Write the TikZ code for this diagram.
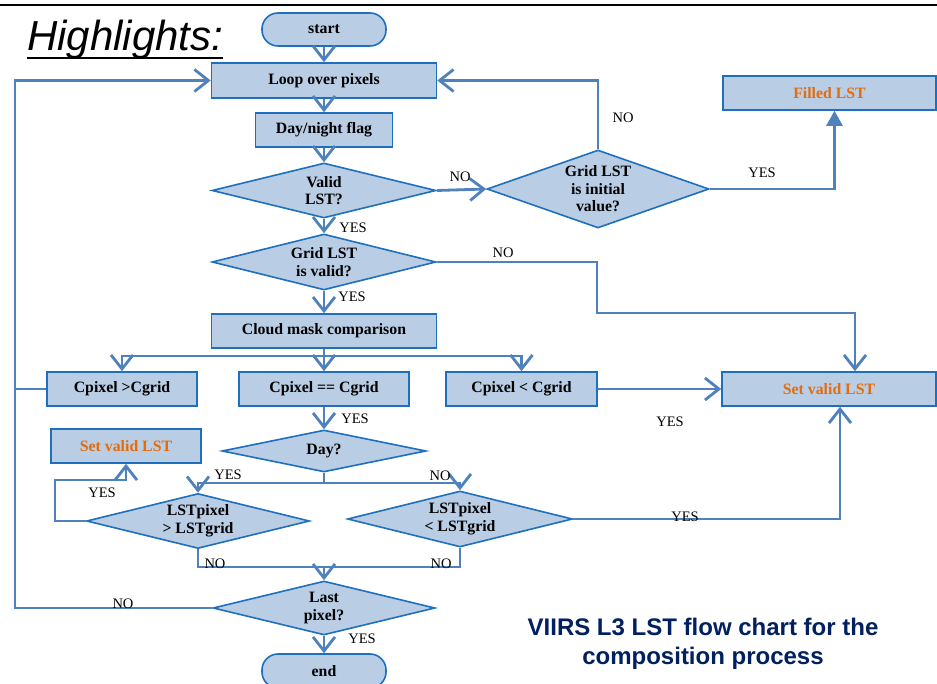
\documentclass[tikz,border=0pt]{standalone}
\usepackage{fontspec}
\setmainfont{Liberation Serif}
\newfontfamily\sansf{Liberation Sans}
\usetikzlibrary{shapes.geometric,arrows.meta,calc}
\definecolor{fillc}{RGB}{185,205,229}
\definecolor{bordc}{RGB}{30,112,190}
\definecolor{linec}{RGB}{79,129,189}
\definecolor{orng}{RGB}{228,108,10}
\definecolor{navy}{RGB}{0,32,96}
\tikzset{
  boxbase/.style={draw=bordc, fill=fillc, line width=1.6pt, inner sep=0pt, align=center,
    font=\bfseries\fontsize{15.8}{17.5}\selectfont},
  proc/.style={boxbase, rectangle},
  term/.style={boxbase, rectangle, rounded corners=16pt},
  dia/.style={boxbase, diamond},
  wire/.style={draw=linec, line width=2.8pt},
  conn/.style={wire, -{Straight Barb[length=14pt,width=22pt]}},
  connT/.style={wire, -{Triangle[length=15pt,width=16pt]}},
  lbl/.style={inner sep=0pt, font=\fontsize{14.5}{16}\selectfont},
}
\begin{document}
\begin{tikzpicture}[x=1pt,y=-1pt]
\useasboundingbox (0,0) rectangle (937,684);
\clip (0,0) rectangle (937,684);
\fill[white] (0,0) rectangle (937,684);
% top rule
\draw[line width=2pt] (0,5) -- (937,5);
% title
\node[anchor=base west, inner sep=0pt, font=\sansf\itshape\fontsize{42}{42}\selectfont] (hl) at (27,51) {Highlights:};
\draw[line width=2pt] ($(hl.base west)+(0,7)$) -- ($(hl.base east)+(0,7)$);

% nodes
\node[term, minimum width=124pt, minimum height=33pt] (start) at (324,29.5) {start};
\node[proc, minimum width=225pt, minimum height=35pt] (loop) at (324,80.5) {Loop over pixels};
\node[proc, minimum width=137pt, minimum height=34pt] (dn) at (324,130) {Day/night flag};
\node[dia, aspect=4.07, minimum width=224pt, minimum height=55pt] (valid) at (324,190.5) {Valid\\LST?};
\node[dia, aspect=2.85, minimum width=222pt, minimum height=78pt] (ginit) at (598,189) {Grid LST\\is initial\\value?};
\node[proc, minimum width=213pt, minimum height=34pt, text=orng] (filled) at (829.5,93) {Filled LST};
\node[dia, aspect=4, minimum width=224pt, minimum height=56pt] (gvalid) at (324,262) {Grid LST\\is valid?};
\node[proc, minimum width=225pt, minimum height=34pt] (cloud) at (324,331) {Cloud mask comparison};
\node[proc, minimum width=150pt, minimum height=34pt] (cgt) at (122,389) {Cpixel >Cgrid};
\node[proc, minimum width=170pt, minimum height=34pt] (ceq) at (324,389) {Cpixel == Cgrid};
\node[proc, minimum width=151pt, minimum height=34pt] (clt) at (521.5,389) {Cpixel < Cgrid};
\node[proc, minimum width=214pt, minimum height=34pt, text=orng] (svr) at (829,389) {Set valid LST};
\node[dia, aspect=4.86, minimum width=204pt, minimum height=42pt] (day) at (324,451) {Day?};
\node[proc, minimum width=150pt, minimum height=34pt, text=orng] (svl) at (126,446) {Set valid LST};
\node[dia, aspect=4.05, minimum width=223pt, minimum height=55pt] (lgt) at (198,521) {LSTpixel\\> LSTgrid};
\node[dia, aspect=4.02, minimum width=225pt, minimum height=56pt] (llt) at (460,519) {LSTpixel\\< LSTgrid};
\node[dia, aspect=4.1, minimum width=222pt, minimum height=54pt] (last) at (324,608) {Last\\pixel?};
\node[term, minimum width=124pt, minimum height=34pt] (endn) at (324,671) {end};

% helper coordinates
\coordinate (lc) at (15,80.5);
\coordinate (n1) at (597,313);
\coordinate (br) at (324,356);
\coordinate (dj) at (324,483);
\coordinate (yl) at (55,480);
\coordinate (mj) at (324,567);

% connectors
\draw[conn] (start) -- (loop);
\draw[conn] (loop) -- (dn);
\draw[conn] (dn) -- (valid);
\draw[conn] (valid.east) -- (ginit.west);
\draw[conn] (ginit.north) |- (loop.east);
\draw[connT] (ginit.east) -| ($(filled.south)+(5,0)$);
\draw[conn] (valid.south) -- (gvalid.north);
\draw[conn] (gvalid.east) -| (n1) -| ($(svr.north)+(26,0)$);
\draw[conn] (gvalid.south) -- (cloud.north);
\draw[conn] (cloud.south) -- (ceq.north);
\draw[conn] (br) -| (cgt.north);
\draw[conn] (br) -| (clt.north);
\draw[conn] (clt.east) -- (svr.west);
\draw[wire] (cgt.west) -- (cgt.west -| lc);
\draw[conn] (last.west) -| (lc) -- (loop.west);
\draw[conn] (ceq.south) -- (day.north);
\draw[wire] (day.south) -- (dj);
\draw[conn] (dj) -| (lgt.north);
\draw[conn] (dj) -| (llt.north);
\draw[conn] (lgt.west) -| (yl) -| (svl.south);
\draw[conn] (llt.east) -| ($(svr.south)+(11,0)$);
\draw[wire] (lgt.south) |- (mj);
\draw[wire] (llt.south) |- (mj);
\draw[conn] (mj) -- (last.north);
\draw[conn] (last.south) -- (endn.north);

% labels
\node[lbl] at (460,177) {NO};
\node[lbl] at (623,118) {NO};
\node[lbl] at (762,173) {YES};
\node[lbl] at (353,228) {YES};
\node[lbl] at (503,253) {NO};
\node[lbl] at (352,297) {YES};
\node[lbl] at (670,422) {YES};
\node[lbl] at (355,419) {YES};
\node[lbl] at (228,475) {YES};
\node[lbl] at (440,476) {NO};
\node[lbl] at (102,493) {YES};
\node[lbl] at (685,517) {YES};
\node[lbl] at (215,564) {NO};
\node[lbl] at (441,564) {NO};
\node[lbl] at (123,604) {NO};
\node[lbl] at (362,639) {YES};

% caption
\node[align=center, text=navy, inner sep=0pt, font=\sansf\bfseries\fontsize{24}{29}\selectfont] (cap) at (703,644) {VIIRS L3 LST flow chart for the\\composition process};
\end{tikzpicture}
\end{document}
